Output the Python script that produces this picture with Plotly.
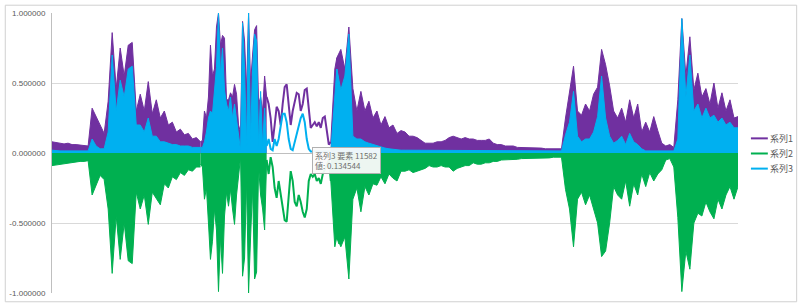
import plotly.graph_objects as go

# ---------------- data ----------------
series_names = ["系列1", "系列2", "系列3"]
series_colors = ["#7030A0", "#00B050", "#00B0F0"]

# coarse sample grid (element index) for the densely filled parts
grid_step = 180
n_grid = 172

s1_dense = ([0.08, 0.075, 0.07, 0.065, 0.07, 0.06, 0.06, 0.055, 0.05, 0.05,
             0.32, 0.26, 0.19, 0.14, 0.37, 0.86, 0.46, 0.75, 0.55, 0.77, 0.79, 0.3, 0.42, 0.3,
             0.51, 0.28, 0.38, 0.25, 0.3, 0.2, 0.22, 0.15, 0.17, 0.13, 0.14, 0.1, 0.11, 0.08]
            + [None] * 33 +
            [0.68,
             0.74, 0.6, 0.9, 0.46, 0.3, 0.44, 0.3, 0.37, 0.25, 0.3,
             0.2, 0.26, 0.18, 0.2, 0.14, 0.16, 0.15, 0.12, 0.12, 0.11,
             0.09, 0.07, 0.07, 0.07, 0.08, 0.08, 0.09, 0.11, 0.12, 0.11,
             0.1, 0.11, 0.1, 0.1, 0.09, 0.09, 0.09, 0.1, 0.07, 0.06,
             0.06, 0.05, 0.05, 0.05, 0.04, 0.04, 0.04, 0.04, 0.04, 0.035,
             0.035, 0.03, 0.03, 0.03, 0.03, 0.03, 0.25, 0.45, 0.62, 0.3,
             0.27, 0.35, 0.3, 0.42, 0.47, 0.74, 0.63, 0.48, 0.3, 0.25,
             0.32, 0.22, 0.38, 0.25, 0.35, 0.15, 0.22, 0.15, 0.26, 0.16,
             0.07, 0.05, 0.06, 0.04, 0.38, 0.96, 0.55, 0.83, 0.45, 0.57,
             0.4, 0.46, 0.35, 0.5, 0.32, 0.43, 0.3, 0.38, 0.25, 0.26])

s2_dense = ([-0.09, -0.085, -0.08, -0.075, -0.07, -0.065, -0.065, -0.06, -0.06, -0.055,
             -0.3, -0.23, -0.16, -0.19, -0.4, -0.86, -0.45, -0.76, -0.5, -0.77, -0.79, -0.28, -0.4, -0.3,
             -0.51, -0.28, -0.33, -0.37, -0.22, -0.25, -0.17, -0.19, -0.14, -0.16, -0.12, -0.13, -0.1, -0.1]
            + [None] * 33 +
            [-0.6,
             -0.67, -0.6, -0.9, -0.33, -0.25, -0.42, -0.24, -0.3, -0.22, -0.23,
             -0.17, -0.22, -0.15, -0.18, -0.2, -0.13, -0.13, -0.12, -0.14, -0.13,
             -0.12, -0.11, -0.09, -0.1, -0.1, -0.09, -0.1, -0.1, -0.13, -0.11,
             -0.1, -0.09, -0.09, -0.07, -0.08, -0.08, -0.07, -0.07, -0.06, -0.06,
             -0.05, -0.05, -0.05, -0.045, -0.045, -0.04, -0.04, -0.04, -0.04, -0.04,
             -0.035, -0.035, -0.035, -0.03, -0.03, -0.03, -0.26, -0.4, -0.67, -0.33,
             -0.28, -0.37, -0.3, -0.4, -0.5, -0.74, -0.7, -0.5, -0.24, -0.3,
             -0.33, -0.2, -0.38, -0.22, -0.3, -0.15, -0.24, -0.14, -0.2, -0.15,
             -0.12, -0.05, -0.04, -0.1, -0.46, -0.99, -0.7, -0.83, -0.5, -0.43,
             -0.45, -0.35, -0.42, -0.47, -0.33, -0.4, -0.3, -0.24, -0.33, -0.24])

s3_dense = ([0.02, 0.015, 0.015, 0.015, 0.015, 0.015, 0.015, 0.015, 0.015, 0.015,
             0.1, 0.05, 0.03, 0.03, 0.15, 0.7, 0.3, 0.52, 0.4, 0.6, 0.62, 0.2, 0.2, 0.15,
             0.25, 0.12, 0.12, 0.08, 0.08, 0.07, 0.06, 0.06, 0.05, 0.05, 0.05, 0.04, 0.04, 0.04]
            + [None] * 33 +
            [0.6,
             0.45, 0.55, 0.85, 0.12, 0.1, 0.1, 0.08, 0.07, 0.06, 0.05,
             0.04, 0.035, 0.03, 0.025, 0.025, 0.02, 0.02, 0.02, 0.02, 0.02,
             0.02, 0.02, 0.02, 0.02, 0.02, 0.02, 0.02, 0.02, 0.02, 0.02,
             0.02, 0.02, 0.02, 0.02, 0.02, 0.02, 0.02, 0.02, 0.02, 0.02,
             0.015, 0.015, 0.015, 0.015, 0.015, 0.015, 0.015, 0.015, 0.015, 0.015,
             0.015, 0.015, 0.015, 0.015, 0.015, 0.015, 0.13, 0.22, 0.44, 0.12,
             0.08, 0.1, 0.1, 0.15, 0.26, 0.55, 0.25, 0.12, 0.07, 0.09,
             0.12, 0.06, 0.14, 0.08, 0.06, 0.03, 0.015, 0.015, 0.015, 0.015,
             0.015, 0.015, 0.015, 0.015, 0.1, 0.96, 0.4, 0.7, 0.3, 0.35,
             0.25, 0.32, 0.25, 0.27, 0.22, 0.25, 0.2, 0.22, 0.18, 0.18])

# fine grid (element index) for the strongly oscillating middle section
wave_start = 6660
wave_step = 90
s1_wave = [0.08, 0.09, 0.3, 0.25, 0.4, 0.77, 0.55, 0.6, 0.9, 1.0,
           0.77, 0.84, 0.82, 0.38, 0.38, 0.43, 0.4, 0.49, 0.42, 0.2,
           0.15, 0.94, 0.8, 0.45, 1.0, 0.5, 0.7, 0.88, 0.91, 0.35,
           0.4, 0.3, 0.55, 0.4, 0.35, 0.25, 0.08, 0.2, 0.33, 0.3,
           0.2, 0.35, 0.47, 0.49, 0.35, 0.2, 0.3, 0.38, 0.43, 0.42,
           0.3, 0.35, 0.45, 0.46, 0.3, 0.18, 0.2, 0.22, 0.19, 0.22,
           0.18, 0.25, 0.26, 0.15, 0.06, 0.08, 0.3, 0.6, 0.68, 0.55]
s2_wave = [-0.08, -0.1, -0.33, -0.25, -0.5, -0.76, -0.63, -0.4, -0.55, -0.99,
           -0.6, -0.86, -0.45, -0.28, -0.38, -0.26, -0.4, -0.51, -0.3, -0.15,
           -0.03, -0.88, -0.75, -0.2, -1.0, -0.6, -0.25, -0.9, -0.85, -0.1,
           -0.3, -0.4, -0.55, -0.05, -0.15, -0.03, -0.1, -0.25, -0.32, -0.2,
           -0.3, -0.4, -0.48, -0.49, -0.3, -0.13, -0.2, -0.35, -0.38, -0.3,
           -0.35, -0.42, -0.46, -0.4, -0.2, -0.15, -0.17, -0.15, -0.2, -0.18,
           -0.22, -0.15, -0.12, -0.08, -0.05, -0.2, -0.4, -0.67, -0.6, -0.65]
s3_wave = [0.04, 0.04, 0.08, 0.15, 0.25, 0.3, 0.28, 0.45, 0.61, 1.0,
           0.55, 0.75, 0.45, 0.35, 0.3, 0.4, 0.25, 0.35, 0.25, 0.15,
           0.02, 0.93, 0.6, 0.05, 1.0, 0.1, 0.6, 0.85, 0.8, 0.05,
           0.44, 0.05, 0.32, 0.05, 0.1, 0.03, 0.02, 0.1, 0.05, 0.1,
           0.2, 0.28, 0.28, 0.22, 0.1, 0.03, 0.02, 0.08, 0.15, 0.2,
           0.25, 0.28, 0.22, 0.1, 0.03, 0.01, 0.01, 0.01, 0.01, 0.01,
           0.01, 0.01, 0.01, 0.01, 0.01, 0.01, 0.2, 0.45, 0.6, 0.5]
# parts of the fine grid that read as filled spikes vs. thin wavy lines
wave_fill_ranges = [(0, 33), (65, 69)]
wave_line_range = (33, 65)

y_tick_values = [-1.0, -0.5, 0.0, 0.5, 1.0]
y_tick_labels = ["-1.000000", "-0.500000", "0.000000", "0.500000", "1.000000"]

tooltip_series = "系列3"
tooltip_element = 11582
tooltip_value = 0.134544

# ---------------- figure ----------------
grid_x = [i * grid_step for i in range(n_grid)]
wave_x = [wave_start + k * wave_step for k in range(len(s1_wave))]
x_max = grid_x[-1]

FONT = "Liberation Sans, Arial, Noto Sans CJK JP, sans-serif"
CJK = "Noto Sans CJK JP, Liberation Sans, sans-serif"

fig = go.Figure()


def segments(xs, ys):
    segs, cx, cy = [], [], []
    for x, y in zip(xs, ys):
        if y is None:
            if cx:
                segs.append((cx, cy))
            cx, cy = [], []
        else:
            cx.append(x)
            cy.append(y)
    if cx:
        segs.append((cx, cy))
    return segs


for name, color, dense, wave in zip(series_names, series_colors,
                                    [s1_dense, s2_dense, s3_dense],
                                    [s1_wave, s2_wave, s3_wave]):
    for sx, sy in segments(grid_x, dense):
        fig.add_trace(go.Scatter(x=sx, y=sy, mode="lines", fill="tozeroy",
                                 fillcolor=color, line=dict(color=color, width=1),
                                 showlegend=False, hoverinfo="skip", name=name))
    for a, b in wave_fill_ranges:
        fig.add_trace(go.Scatter(x=wave_x[a:b + 1], y=wave[a:b + 1], mode="lines",
                                 fill="tozeroy", fillcolor=color,
                                 line=dict(color=color, width=1),
                                 showlegend=False, hoverinfo="skip", name=name))
    a, b = wave_line_range
    fig.add_trace(go.Scatter(x=wave_x[a:b + 1], y=wave[a:b + 1], mode="lines",
                             line=dict(color=color, width=2),
                             showlegend=False, hoverinfo="skip", name=name))

W, H = 800, 307
ML, MR, MT, MB = 48, 62, 9, 11
PW, PH = W - ML - MR, H - MT - MB


def px_x(p):
    return (p - ML) / PW


def px_y(p):
    return (H - MB - p) / PH


shapes = [
    dict(type="rect", xref="paper", yref="paper",
         x0=px_x(1), x1=px_x(797), y0=px_y(305), y1=px_y(1),
         line=dict(color="#D0D0D0", width=1), layer="below"),
]
annotations = []

# legend (drawn manually to match Excel's compact legend)
legend_rows = [137.5, 153, 168.5]
for name, color, ry in zip(series_names, series_colors, legend_rows):
    shapes.append(dict(type="line", xref="paper", yref="paper",
                       x0=px_x(751), x1=px_x(768), y0=px_y(ry), y1=px_y(ry),
                       line=dict(color=color, width=2)))
    annotations.append(dict(xref="paper", yref="paper", x=px_x(768), y=px_y(ry),
                            text=name, showarrow=False, xanchor="left", yanchor="middle",
                            font=dict(family=CJK, size=9, color="#595959")))

# tooltip box
annotations.append(dict(
    xref="paper", yref="paper", x=px_x(310), y=px_y(146),
    xanchor="left", yanchor="top", align="left", showarrow=False,
    text=f"{tooltip_series} 要素 {tooltip_element}<br>値: {tooltip_value:.6f}",
    font=dict(family=CJK, size=8, color="#6E6E6E"),
    bgcolor="rgba(250,250,250,0.95)", bordercolor="#B0B0B0", borderwidth=1, borderpad=2))

fig.update_layout(
    width=W, height=H,
    margin=dict(l=ML, r=MR, t=MT, b=MB),
    paper_bgcolor="white", plot_bgcolor="white",
    showlegend=False,
    shapes=shapes, annotations=annotations,
    xaxis=dict(range=[0, x_max], showgrid=False, zeroline=False,
               showticklabels=False, ticks="", showline=False, fixedrange=True),
    yaxis=dict(range=[-1, 1], tickvals=y_tick_values, ticktext=y_tick_labels,
               showgrid=True, gridcolor="#D9D9D9", gridwidth=1,
               zeroline=True, zerolinecolor="#BFBFBF", zerolinewidth=1,
               showline=True, linecolor="#BFBFBF", linewidth=1,
               ticks="", ticklabelstandoff=4,
               tickfont=dict(family=FONT, size=8, color="#595959"), fixedrange=True),
)

fig.write_html("out.html")
